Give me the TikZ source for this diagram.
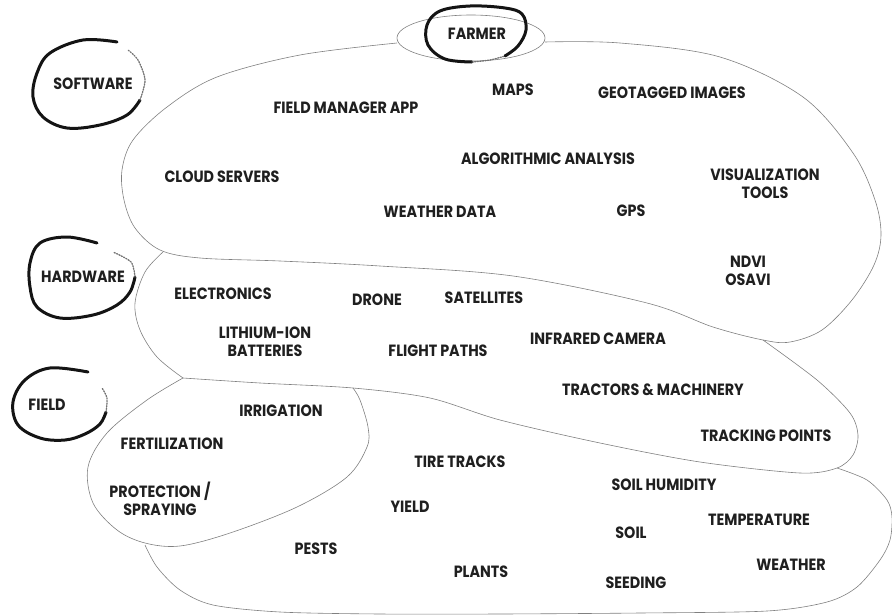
\documentclass[tikz,border=0pt]{standalone}
\usepackage{fontspec}
\newfontfamily\lblfont{Poppins Bold}[FakeStretch=0.88]
\begin{document}
\begin{tikzpicture}[x=1pt,y=-1pt,
  outline/.style={draw=black!50, line width=0.6pt},
  brush/.style={draw=black!92, line width=3pt, line cap=round, line join=round},
  drybrush/.style={draw=black!55, line width=1.3pt, dash pattern=on 1.2pt off 1.4pt, line cap=round},
  lbl/.style={text=black!88, font=\lblfont\fontsize{16.3}{18}\selectfont, align=center, inner sep=0pt},
  ]
\useasboundingbox (0,0) rectangle (892,616);

% software region (top blob)
\draw[outline] plot[smooth, tension=0.55] coordinates {(397,43) (300,55) (217,77) (167,107) (133,140) (122,170) (124,200) (135,228) (160,250) (200,258) (280,261) (380,266) (513,276) (647,303) (713,327) (763,340) (790,342) (822,330) (852,300) (874,265) (881,235) (875,200) (853,153) (803,97) (720,57) (620,43) (545,42)};

% farmer ellipse
\draw[outline] (471,38) ellipse [x radius=74, y radius=23];

% hardware region
\draw[outline] plot[smooth, tension=0.55] coordinates {(163,252) (145,272) (135,303) (140,330) (157,357) (183,378)};
\draw[outline] plot[smooth, tension=0.5] coordinates {(183,378) (260,383) (353,388) (430,398) (500,420) (600,443) (700,462) (800,473) (837,468) (853,455) (858,435) (850,413) (817,380) (763,340)};

% small field region
\draw[outline] plot[smooth, tension=0.55] coordinates {(183,378) (147,400) (107,433) (88,467) (93,503) (117,530) (145,543) (180,546) (230,533) (297,507) (347,477) (367,447) (368,427) (360,400) (353,388)};

% large field region
\draw[outline] plot[smooth, tension=0.5] coordinates {(145,545) (157,567) (180,590) (213,605) (280,612) (380,614) (500,614) (640,613) (767,611) (827,602) (857,587) (880,560) (890,540) (892,517) (887,500) (867,480) (837,468)};

% hand-drawn rings
\draw[brush] plot[smooth, tension=0.6] coordinates {(505,56) (518,46) (526,30) (522,14) (505,8) (470,6) (440,11) (427,25) (428,45) (445,59) (472,62)};
\draw[drybrush] plot[smooth] coordinates {(472,62) (490,60) (505,56)};

\draw[brush] plot[smooth, tension=0.6] coordinates {(117,42) (83,40) (50,53) (37,73) (33,97) (43,117) (67,128) (100,125) (127,115) (140,100)};
\draw[drybrush] plot[smooth] coordinates {(140,100) (145,80) (138,60) (128,50)};

\draw[brush] plot[smooth, tension=0.6] coordinates {(97,243) (67,237) (40,243) (30,263) (30,287) (37,307) (60,318) (93,315) (117,305) (130,292) (135,277)};
\draw[drybrush] plot[smooth] coordinates {(135,277) (131,262) (113,252)};

\draw[brush] plot[smooth, tension=0.6] coordinates {(88,372) (50,368) (25,380) (13,402) (18,425) (40,438) (65,440) (85,434) (100,424) (106,412)};
\draw[drybrush] plot[smooth] coordinates {(106,412) (107,398) (102,388)};

% labels
\node[lbl] (farmer) at (477,34) {FARMER};
\node[lbl] (software) at (93,84) {SOFTWARE};
\node[lbl] (hardware) at (83,277) {HARDWARE};
\node[lbl] (field) at (47,405) {FIELD};

\node[lbl] (maps) at (513,90) {MAPS};
\node[lbl] (geo) at (672,93) {GEOTAGGED IMAGES};
\node[lbl] (fma) at (346,108) {FIELD MANAGER APP};
\node[lbl] (algo) at (548,159) {ALGORITHMIC ANALYSIS};
\node[lbl] (cloud) at (222,177) {CLOUD SERVERS};
\node[lbl] (vis) at (765,184) {VISUALIZATION\\TOOLS};
\node[lbl] (wdata) at (440,212) {WEATHER DATA};
\node[lbl] (gps) at (631,211) {GPS};
\node[lbl] (ndvi) at (748,271) {NDVI\\OSAVI};

\node[lbl] (elec) at (223,294) {ELECTRONICS};
\node[lbl] (drone) at (377,300) {DRONE};
\node[lbl] (sat) at (484,298) {SATELLITES};
\node[lbl] (bat) at (265,342) {LITHIUM-ION\\BATTERIES};
\node[lbl] (flight) at (438,351) {FLIGHT PATHS};
\node[lbl] (ir) at (598,339) {INFRARED CAMERA};
\node[lbl] (tract) at (653,390) {TRACTORS \& MACHINERY};
\node[lbl] (track) at (766,436) {TRACKING POINTS};

\node[lbl] (irr) at (281,411) {IRRIGATION};
\node[lbl] (fert) at (172,444) {FERTILIZATION};
\node[lbl] (prot) at (160,499) {PROTECTION /\\SPRAYING};

\node[lbl] (tire) at (460,462) {TIRE TRACKS};
\node[lbl] (soilh) at (664,485) {SOIL HUMIDITY};
\node[lbl] (yield) at (410,507) {YIELD};
\node[lbl] (temp) at (759,520) {TEMPERATURE};
\node[lbl] (soil) at (631,533) {SOIL};
\node[lbl] (pests) at (316,549) {PESTS};
\node[lbl] (weather) at (791,565) {WEATHER};
\node[lbl] (plants) at (481,572) {PLANTS};
\node[lbl] (seed) at (636,583) {SEEDING};
\end{tikzpicture}
\end{document}
